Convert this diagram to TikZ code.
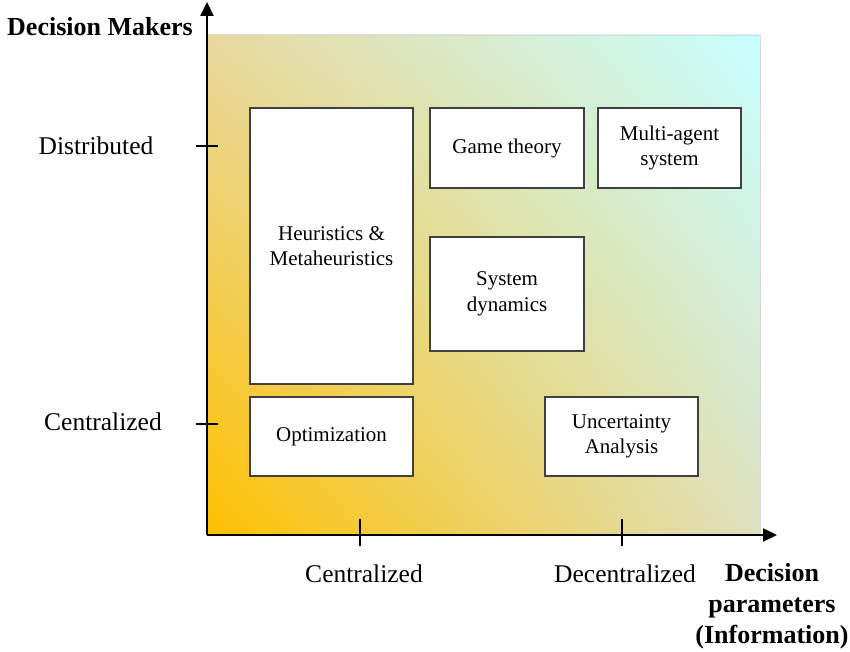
\documentclass[tikz,border=0pt]{standalone}
\usepackage{fontspec}
\setmainfont{Liberation Serif}
\usetikzlibrary{arrows.meta,shadings}
\definecolor{warm}{RGB}{255,192,0}
\definecolor{cool}{RGB}{200,255,255}
\definecolor{midA}{RGB}{232,216,160}
\definecolor{midB}{RGB}{222,224,192}
\tikzset{
  method/.style={draw=black!75, line width=1.2pt, fill=white, align=center,
    font=\fontsize{21}{25.5}\selectfont, inner sep=0pt},
  axislbl/.style={font=\fontsize{25.5}{30}\selectfont},
  axistitle/.style={font=\bfseries\fontsize{26}{31}\selectfont, align=center},
  axisline/.style={line width=2.2pt, -{Triangle[length=14pt,width=13pt]}},
  tickline/.style={line width=1.6pt}
}
\begin{document}
\begin{tikzpicture}[x=1pt,y=-1pt]
\useasboundingbox (0,0) rectangle (850,652);
% gradient field between the axes
\shade[lower left=warm, upper right=cool, upper left=midA, lower right=midB]
  (208,535) rectangle (760,35);
\draw[black!15, line width=0.8pt] (208,35) -- (760,35) -- (760,535);

% axes
\coordinate (O) at (207,535);
\coordinate (Ytop) at (207,2);
\coordinate (Xend) at (777,535);
\draw[axisline] (O) -- (Ytop);
\draw[axisline] (O) -- (Xend);

% ticks
\coordinate (ty1a) at (196,146); \coordinate (ty1b) at (218,146);
\coordinate (ty2a) at (196,424); \coordinate (ty2b) at (218,424);
\coordinate (tx1a) at (360,519); \coordinate (tx1b) at (360,546);
\coordinate (tx2a) at (622,519); \coordinate (tx2b) at (622,546);
\draw[tickline] (ty1a) -- (ty1b);
\draw[tickline] (ty2a) -- (ty2b);
\draw[tickline] (tx1a) -- (tx1b);
\draw[tickline] (tx2a) -- (tx2b);

% axis labels
\node[axistitle] (ymk) at (100,27) {Decision Makers};
\node[axislbl] (ydist) at (96,146) {Distributed};
\node[axislbl] (ycent) at (103,422) {Centralized};
\node[axislbl] (xcent) at (364,574) {Centralized};
\node[axislbl] (xdec) at (625,574) {Decentralized};
\node[axistitle] (xttl) at (772,606)
  {Decision\\parameters\\(Information)};

% methods
\node[method, minimum width=163pt, minimum height=276pt] (heur) at (331.5,246)
  {Heuristics \&\\Metaheuristics};
\node[method, minimum width=163pt, minimum height=79pt] (opt) at (331.5,436.5)
  {Optimization};
\node[method, minimum width=154pt, minimum height=80pt] (game) at (507,148)
  {Game theory};
\node[method, minimum width=143pt, minimum height=80pt] (mas) at (669.5,148)
  {Multi-agent\\system};
\node[method, minimum width=154pt, minimum height=114pt] (sysd) at (507,294)
  {System\\dynamics};
\node[method, minimum width=153pt, minimum height=79pt] (unc) at (621.5,436.5)
  {Uncertainty\\Analysis};
\end{tikzpicture}
\end{document}
